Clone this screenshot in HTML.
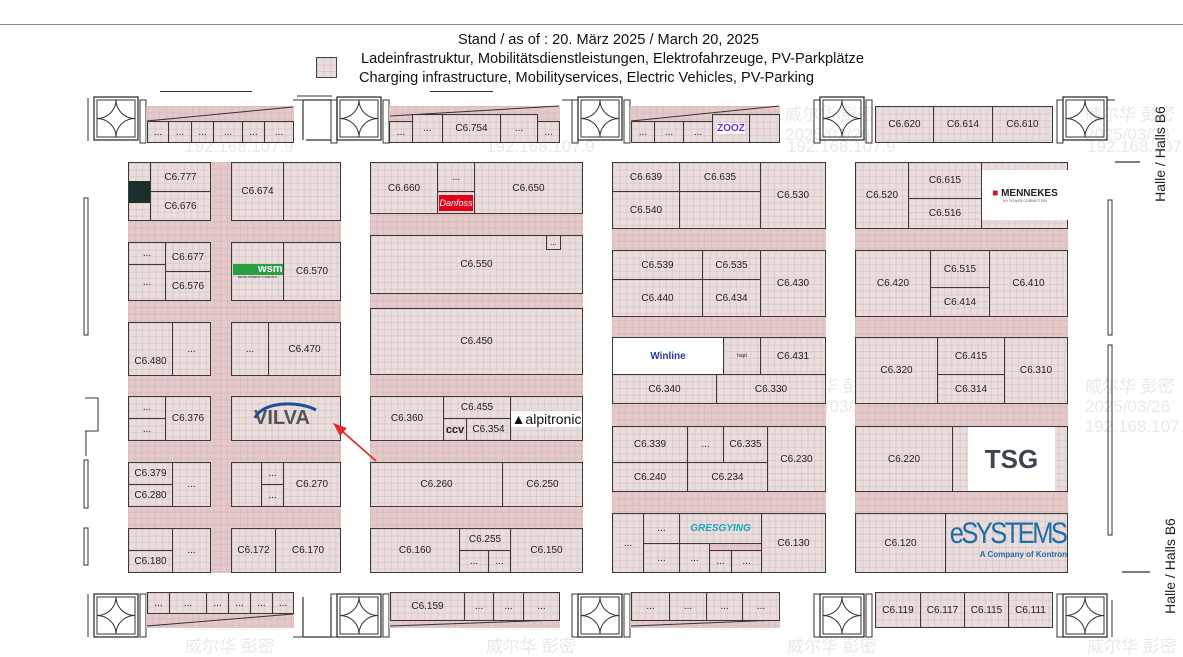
<!DOCTYPE html>
<html><head><meta charset="utf-8"><style>
*{box-sizing:border-box;margin:0;padding:0}
body{width:1183px;height:653px;background:#fff;position:relative;overflow:hidden;font-family:"Liberation Sans","Noto Sans CJK SC",sans-serif;color:#222}
.a,.s,.d{position:absolute}
.g{background-color:#ecdcdc;background-image:linear-gradient(rgba(170,170,170,.28) 1px,transparent 1px),linear-gradient(90deg,rgba(170,170,170,.28) 1px,transparent 1px);background-size:6.6px 6.6px}
.a{background-color:#e6c8c8}
.s{border:1.5px solid #3a3a3a;display:flex;align-items:center;justify-content:center;font-size:10px;color:#222;white-space:nowrap;overflow:hidden}
.w{background:#fff}
.t{position:absolute;font-size:14.6px;color:#111;white-space:nowrap}
.wm{position:absolute;color:rgba(200,200,200,.4);font-size:17px}
</style></head><body>
<div style="position:absolute;left:0;top:24px;width:1183px;height:1px;background:#888"></div>
<div class="t" style="left:458px;top:32px">Stand / as of : 20. März 2025 / March 20, 2025</div>
<div class="g" style="position:absolute;left:316px;top:57px;width:21px;height:21px;border:1px solid #444"></div>
<div class="t" style="left:361px;top:51px">Ladeinfrastruktur, Mobilitätsdienstleistungen, Elektrofahrzeuge, PV-Parkplätze</div>
<div class="t" style="left:359px;top:70px">Charging infrastructure, Mobilityservices, Electric Vehicles, PV-Parking</div>
<div style="position:absolute;left:160px;top:91px;width:92px;height:1px;background:#333"></div>
<div style="position:absolute;left:430px;top:91px;width:63px;height:1px;background:#333"></div>

<!-- watermarks -->
<div class="wm" style="left:185px;top:137px">192.168.107.9</div>
<div class="wm" style="left:486px;top:137px">192.168.107.9</div>
<div class="wm" style="left:787px;top:137px">192.168.107.9</div>
<div class="wm" style="left:1087px;top:137px">192.168.107.9</div>
<div class="wm" style="left:785px;top:100px">威尔华 彭密<br>2025/03/26</div>
<div class="wm" style="left:1085px;top:100px">威尔华 彭密<br>2025/03/26</div>
<div class="wm" style="left:185px;top:372px">威尔华 彭密</div>
<div class="wm" style="left:486px;top:372px">威尔华 彭密</div>
<div class="wm" style="left:787px;top:372px">威尔华 彭密<br>2025/03/26</div>
<div class="wm" style="left:1085px;top:372px">威尔华 彭密<br>2025/03/26<br>192.168.107.9</div>
<div class="wm" style="left:185px;top:632px">威尔华 彭密</div>
<div class="wm" style="left:486px;top:632px">威尔华 彭密</div>
<div class="wm" style="left:787px;top:632px">威尔华 彭密</div>
<div class="wm" style="left:1087px;top:632px">威尔华 彭密</div>

<!-- doors -->
<svg width="1183" height="653" style="position:absolute;left:0;top:0" fill="none" stroke="#333" stroke-width="1">
<defs><g id="dr"><rect x="0" y="0" width="44" height="43" stroke-width="1.3"/><rect x="3" y="3" width="38" height="37"/><path d="M22 3 A19 18.5 0 0 1 3 21.5 M41 21.5 A19 18.5 0 0 1 22 3 M22 40 A19 18.5 0 0 1 41 21.5 M3 21.5 A19 18.5 0 0 1 22 40"/></g></defs>
<use href="#dr" x="94" y="97"/><use href="#dr" x="337" y="97"/><use href="#dr" x="578" y="97"/><use href="#dr" x="820" y="97"/><use href="#dr" x="1063" y="97"/>
<use href="#dr" x="94" y="594"/><use href="#dr" x="337" y="594"/><use href="#dr" x="578" y="594"/><use href="#dr" x="820" y="594"/><use href="#dr" x="1063" y="594"/>
<path d="M140 100h6v43h-6z M331 100h6v43h-6z M383 100h6v43h-6z M572 100h6v43h-6z M624 100h6v43h-6z M814 100h6v43h-6z M866 100h6v43h-6z M1057 100h6v43h-6z"/>
<path d="M140 594h6v43h-6z M331 594h6v43h-6z M383 594h6v43h-6z M572 594h6v43h-6z M624 594h6v43h-6z M814 594h6v43h-6z M866 594h6v43h-6z M1057 594h6v43h-6z"/>
<path d="M293 100h10v10 M293 637h10v-10 M577 100h-15 M297 96h35" />
<path d="M88 98v43 M88 594v43 M1112 600v37 M1107 100h8" />
<path d="M331 140h-25 M337 140v-40 M303 140v-40 M303 100h28" stroke-width="1.2"/>
<path d="M303 637h28v-40 M303 637v-40" stroke-width="1.2"/>
<rect x="84" y="198" width="4" height="137"/><rect x="84" y="460" width="4" height="48"/><rect x="84" y="528" width="4" height="37"/>
<path d="M85 398h13v33h-13 M86 431v25"/>
<rect x="1108" y="200" width="4" height="135"/><rect x="1108" y="345" width="4" height="190"/>
<path d="M1115 162h25 M1122 572h28" stroke-width="1.3"/>
</svg>

<!-- top strip -->
<div class="g a" style="left:146px;top:106px;width:148px;height:37px"></div>
<div class="g a" style="left:389px;top:106px;width:171px;height:37px"></div>
<div class="g a" style="left:630px;top:106px;width:150px;height:37px"></div>
<svg width="1183" height="653" style="position:absolute;left:0;top:0" stroke="#333" stroke-width="1"><path d="M147 121L293 107M390 116L559 106M631 121L779 106"/></svg>
<div class="s g" style="left:147px;top:121px;width:22px;height:22px">...</div>
<div class="s g" style="left:168px;top:121px;width:24px;height:22px">...</div>
<div class="s g" style="left:191px;top:121px;width:23px;height:22px">...</div>
<div class="s g" style="left:213px;top:121px;width:30px;height:22px">...</div>
<div class="s g" style="left:242px;top:121px;width:23px;height:22px">...</div>
<div class="s g" style="left:264px;top:121px;width:30px;height:22px">...</div>
<div class="s g" style="left:389px;top:121px;width:24px;height:22px">...</div>
<div class="s g" style="left:412px;top:114px;width:31px;height:29px">...</div>
<div class="s g" style="left:442px;top:114px;width:59px;height:29px">C6.754</div>
<div class="s g" style="left:500px;top:114px;width:38px;height:29px">...</div>
<div class="s g" style="left:537px;top:121px;width:23px;height:22px">...</div>
<div class="s g" style="left:631px;top:121px;width:24px;height:22px">...</div>
<div class="s g" style="left:654px;top:121px;width:30px;height:22px">...</div>
<div class="s g" style="left:683px;top:121px;width:30px;height:22px">...</div>
<div class="s g" style="left:712px;top:114px;width:38px;height:29px"><span style="background:#fff;color:#6a2fd0;font-weight:bold;font-size:10px">ZOOZ</span></div>
<div class="s g" style="left:749px;top:114px;width:31px;height:29px"></div>
<div class="s g" style="left:875px;top:106px;width:59px;height:37px">C6.620</div>
<div class="s g" style="left:933px;top:106px;width:60px;height:37px">C6.614</div>
<div class="s g" style="left:992px;top:106px;width:61px;height:37px">C6.610</div>

<!-- bottom strip -->
<div class="g a" style="left:146px;top:592px;width:148px;height:36px"></div>
<div class="g a" style="left:389px;top:592px;width:171px;height:36px"></div>
<div class="g a" style="left:630px;top:592px;width:150px;height:36px"></div>
<svg width="1183" height="653" style="position:absolute;left:0;top:0" stroke="#333" stroke-width="1"><path d="M147 626L293 614M390 626L559 620M631 626L779 620"/></svg>
<div class="s g" style="left:147px;top:592px;width:23px;height:22px">...</div>
<div class="s g" style="left:169px;top:592px;width:38px;height:22px">...</div>
<div class="s g" style="left:206px;top:592px;width:23px;height:22px">...</div>
<div class="s g" style="left:228px;top:592px;width:23px;height:22px">...</div>
<div class="s g" style="left:250px;top:592px;width:23px;height:22px">...</div>
<div class="s g" style="left:272px;top:592px;width:22px;height:22px">...</div>
<div class="s g" style="left:390px;top:592px;width:75px;height:29px">C6.159</div>
<div class="s g" style="left:464px;top:592px;width:30px;height:29px">...</div>
<div class="s g" style="left:493px;top:592px;width:31px;height:29px">...</div>
<div class="s g" style="left:523px;top:592px;width:37px;height:29px">...</div>
<div class="s g" style="left:631px;top:592px;width:39px;height:29px">...</div>
<div class="s g" style="left:669px;top:592px;width:38px;height:29px">...</div>
<div class="s g" style="left:706px;top:592px;width:37px;height:29px">...</div>
<div class="s g" style="left:742px;top:592px;width:38px;height:29px">...</div>
<div class="s g" style="left:875px;top:592px;width:46px;height:36px">C6.119</div>
<div class="s g" style="left:920px;top:592px;width:45px;height:36px">C6.117</div>
<div class="s g" style="left:964px;top:592px;width:45px;height:36px">C6.115</div>
<div class="s g" style="left:1008px;top:592px;width:45px;height:36px">C6.111</div>

<!-- blocks (aisle bg) -->
<div class="g a" style="left:128px;top:162px;width:213px;height:411px"></div>
<div class="g a" style="left:370px;top:162px;width:213px;height:411px"></div>
<div class="g a" style="left:612px;top:162px;width:214px;height:411px"></div>
<div class="g a" style="left:855px;top:162px;width:213px;height:411px"></div>

<!-- Column A -->
<div class="s g" style="left:128px;top:162px;width:23px;height:59px"><div style="width:22px;height:22px;background:#1b2f2a"></div></div>
<div class="s g" style="left:150px;top:162px;width:61px;height:30px">C6.777</div>
<div class="s g" style="left:150px;top:191px;width:61px;height:30px">C6.676</div>
<div class="s g" style="left:231px;top:162px;width:53px;height:59px">C6.674</div>
<div class="s g" style="left:283px;top:162px;width:58px;height:59px"></div>
<div class="s g" style="left:128px;top:242px;width:38px;height:23px">...</div>
<div class="s g" style="left:128px;top:264px;width:38px;height:37px">...</div>
<div class="s g" style="left:165px;top:242px;width:46px;height:30px">C6.677</div>
<div class="s g" style="left:165px;top:271px;width:46px;height:30px">C6.576</div>
<div class="s g" style="left:231px;top:242px;width:53px;height:59px;flex-direction:column"><div style="width:50px;height:11px;background:#2aa043;color:#fff;font-weight:bold;font-size:11px;line-height:11px;text-align:right">wsm</div><div style="font-size:3px;height:4px">DEVELOPMENT IN METALS</div></div>
<div class="s g" style="left:283px;top:242px;width:58px;height:59px">C6.570</div>
<div class="s g" style="left:128px;top:322px;width:45px;height:54px;align-items:flex-end;padding-bottom:8px">C6.480</div>
<div class="s g" style="left:172px;top:322px;width:39px;height:54px">...</div>
<div class="s g" style="left:231px;top:322px;width:38px;height:54px">...</div>
<div class="s g" style="left:268px;top:322px;width:73px;height:54px">C6.470</div>
<div class="s g" style="left:128px;top:396px;width:38px;height:23px">...</div>
<div class="s g" style="left:128px;top:418px;width:38px;height:23px">...</div>
<div class="s g" style="left:165px;top:396px;width:46px;height:45px">C6.376</div>
<div class="s g" style="left:231px;top:396px;width:110px;height:45px"><span style="position:absolute;left:22px;top:10px;font-size:20px;font-weight:bold;color:#555">VILVA</span><svg style="position:absolute;left:20px;top:3px" width="65" height="20"><path d="M3 18 C10 2 45 0 64 10" stroke="#1c4fa0" stroke-width="3" fill="none"/></svg></div>
<div class="s g" style="left:128px;top:462px;width:45px;height:23px">C6.379</div>
<div class="s g" style="left:128px;top:484px;width:45px;height:23px">C6.280</div>
<div class="s g" style="left:172px;top:462px;width:39px;height:45px">...</div>
<div class="s g" style="left:231px;top:462px;width:31px;height:45px"></div>
<div class="s g" style="left:261px;top:462px;width:23px;height:23px">...</div>
<div class="s g" style="left:261px;top:484px;width:23px;height:23px">...</div>
<div class="s g" style="left:283px;top:462px;width:58px;height:45px">C6.270</div>
<div class="s g" style="left:128px;top:528px;width:45px;height:23px"></div>
<div class="s g" style="left:128px;top:550px;width:45px;height:23px">C6.180</div>
<div class="s g" style="left:172px;top:528px;width:39px;height:45px">...</div>
<div class="s g" style="left:231px;top:528px;width:45px;height:45px">C6.172</div>
<div class="s g" style="left:275px;top:528px;width:66px;height:45px">C6.170</div>

<!-- Column B -->
<div class="s g" style="left:370px;top:162px;width:68px;height:52px">C6.660</div>
<div class="s g" style="left:437px;top:162px;width:38px;height:30px">...</div>
<div class="s g" style="left:437px;top:191px;width:38px;height:23px"><div style="width:34px;height:16px;background:#e2001a;color:#fff;font-style:italic;font-size:9px;text-align:center;line-height:16px">Danfoss</div></div>
<div class="s g" style="left:474px;top:162px;width:109px;height:52px">C6.650</div>
<div class="s g" style="left:370px;top:235px;width:213px;height:59px">C6.550</div>
<div class="s g" style="left:546px;top:235px;width:15px;height:15px;font-size:8px">...</div>
<div class="s g" style="left:370px;top:308px;width:213px;height:67px">C6.450</div>
<div class="s g" style="left:370px;top:396px;width:74px;height:45px">C6.360</div>
<div class="s g" style="left:443px;top:396px;width:68px;height:23px">C6.455</div>
<div class="s g" style="left:443px;top:418px;width:24px;height:23px;font-weight:bold;font-size:11px">ccv</div>
<div class="s g" style="left:466px;top:418px;width:45px;height:23px">C6.354</div>
<div class="s g" style="left:510px;top:396px;width:73px;height:45px"><div style="background:#fff;font-size:14px;color:#111;padding:0 1px">&#9650;alpitronic</div></div>
<div class="s g" style="left:370px;top:462px;width:133px;height:45px">C6.260</div>
<div class="s g" style="left:502px;top:462px;width:81px;height:45px">C6.250</div>
<div class="s g" style="left:370px;top:528px;width:90px;height:45px">C6.160</div>
<div class="s g" style="left:459px;top:528px;width:52px;height:23px">C6.255</div>
<div class="s g" style="left:459px;top:550px;width:30px;height:23px">...</div>
<div class="s g" style="left:488px;top:550px;width:23px;height:23px">...</div>
<div class="s g" style="left:510px;top:528px;width:73px;height:45px">C6.150</div>

<!-- Column C -->
<div class="s g" style="left:612px;top:162px;width:68px;height:30px">C6.639</div>
<div class="s g" style="left:612px;top:191px;width:68px;height:38px">C6.540</div>
<div class="s g" style="left:679px;top:162px;width:82px;height:30px">C6.635</div>
<div class="s g" style="left:679px;top:191px;width:82px;height:38px"></div>
<div class="s g" style="left:760px;top:162px;width:66px;height:67px">C6.530</div>
<div class="s g" style="left:612px;top:250px;width:91px;height:30px">C6.539</div>
<div class="s g" style="left:612px;top:279px;width:91px;height:38px">C6.440</div>
<div class="s g" style="left:702px;top:250px;width:59px;height:30px">C6.535</div>
<div class="s g" style="left:702px;top:279px;width:59px;height:38px">C6.434</div>
<div class="s g" style="left:760px;top:250px;width:66px;height:67px">C6.430</div>
<div class="s w" style="left:612px;top:337px;width:112px;height:38px;color:#2b3a9a;font-weight:bold;font-size:10px">Winline</div>
<div class="s g" style="left:723px;top:337px;width:38px;height:38px;font-size:5px">hapt</div>
<div class="s g" style="left:760px;top:337px;width:66px;height:38px">C6.431</div>
<div class="s g" style="left:612px;top:374px;width:105px;height:30px">C6.340</div>
<div class="s g" style="left:716px;top:374px;width:110px;height:30px">C6.330</div>
<div class="s g" style="left:612px;top:426px;width:76px;height:37px">C6.339</div>
<div class="s g" style="left:687px;top:426px;width:37px;height:37px">...</div>
<div class="s g" style="left:723px;top:426px;width:45px;height:37px">C6.335</div>
<div class="s g" style="left:612px;top:462px;width:76px;height:30px">C6.240</div>
<div class="s g" style="left:687px;top:462px;width:81px;height:30px">C6.234</div>
<div class="s g" style="left:767px;top:426px;width:59px;height:66px">C6.230</div>
<div class="s g" style="left:612px;top:513px;width:32px;height:60px">...</div>
<div class="s g" style="left:643px;top:513px;width:37px;height:31px">...</div>
<div class="s g" style="left:643px;top:543px;width:37px;height:30px">...</div>
<div class="s g" style="left:679px;top:513px;width:83px;height:31px;color:#17a7c4;font-style:italic;font-weight:bold;font-size:10px">GRESGYING</div>
<div class="s g" style="left:679px;top:543px;width:31px;height:30px">...</div>
<div class="s g" style="left:709px;top:550px;width:23px;height:23px">...</div>
<div class="s g" style="left:731px;top:550px;width:31px;height:23px">...</div>
<div class="s g" style="left:761px;top:513px;width:65px;height:60px">C6.130</div>

<!-- Column D -->
<div class="s g" style="left:855px;top:162px;width:54px;height:67px">C6.520</div>
<div class="s g" style="left:908px;top:162px;width:74px;height:37px">C6.615</div>
<div class="s g" style="left:908px;top:198px;width:74px;height:31px">C6.516</div>
<div class="s g" style="left:981px;top:162px;width:87px;height:67px"></div>
<div class="w" style="position:absolute;left:982px;top:170px;width:86px;height:50px;display:flex;flex-direction:column;align-items:center;justify-content:center"><div style="font-size:10px;font-weight:bold;color:#222"><span style="color:#d4132a">&#9632;</span> MENNEKES</div><div style="font-size:3.5px;color:#555">MY POWER CONNECTION</div></div>
<div class="s g" style="left:855px;top:250px;width:76px;height:67px">C6.420</div>
<div class="s g" style="left:930px;top:250px;width:60px;height:38px">C6.515</div>
<div class="s g" style="left:930px;top:287px;width:60px;height:30px">C6.414</div>
<div class="s g" style="left:989px;top:250px;width:79px;height:67px">C6.410</div>
<div class="s g" style="left:855px;top:337px;width:83px;height:67px">C6.320</div>
<div class="s g" style="left:937px;top:337px;width:68px;height:38px">C6.415</div>
<div class="s g" style="left:937px;top:374px;width:68px;height:30px">C6.314</div>
<div class="s g" style="left:1004px;top:337px;width:64px;height:67px">C6.310</div>
<div class="s g" style="left:855px;top:426px;width:98px;height:66px">C6.220</div>
<div class="s g" style="left:952px;top:426px;width:116px;height:66px"></div>
<div class="w" style="position:absolute;left:968px;top:427px;width:87px;height:64px;display:flex;align-items:center;justify-content:center;font-size:26px;font-weight:bold;color:#3d4550">TSG</div>
<div class="s g" style="left:855px;top:513px;width:91px;height:60px">C6.120</div>
<div class="s g" style="left:945px;top:513px;width:123px;height:60px;flex-direction:column;align-items:flex-end;justify-content:flex-start;padding-top:4px"><div style="font-size:30px;color:#1f6fa5;line-height:32px;letter-spacing:-3px;transform:scaleX(0.85);transform-origin:right;padding-right:2px">eSYSTEMS</div><div style="font-size:8px;color:#1f6fa5;font-weight:bold">A Company of Kontron</div></div>

<!-- Halle labels -->
<div style="position:absolute;left:1110px;top:146px;width:100px;height:16px;transform:rotate(-90deg);font-size:14px;text-align:center">Halle / Halls B6</div>
<div style="position:absolute;left:1120px;top:558px;width:100px;height:16px;transform:rotate(-90deg);font-size:14px;text-align:center">Halle / Halls B6</div>

<!-- red arrow -->
<svg width="1183" height="653" style="position:absolute;left:0;top:0"><line x1="376" y1="461" x2="342" y2="431" stroke="#e52a2a" stroke-width="1.8"/><polygon points="333,423 347,428 340,436" fill="#e52a2a"/></svg>
</body></html>
